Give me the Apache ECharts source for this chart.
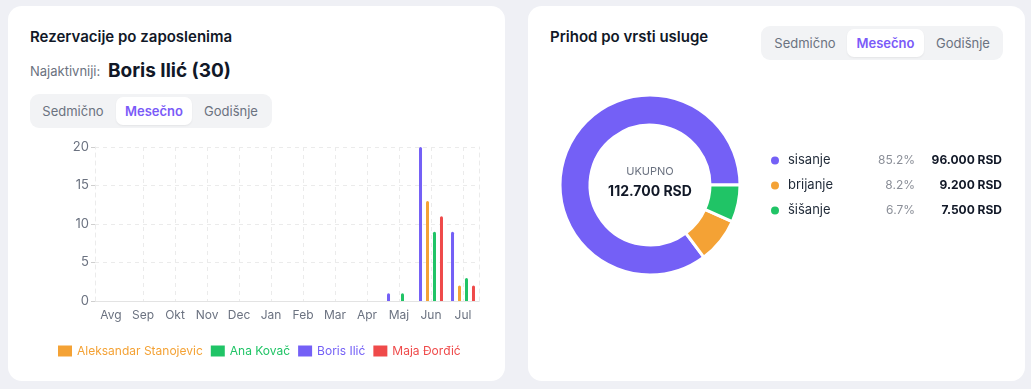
<!DOCTYPE html>
<html>
<head>
<meta charset="utf-8">
<script src="https://cdn.jsdelivr.net/npm/echarts@6/dist/echarts.min.js"></script>
<style>
  html, body { margin: 0; padding: 0; background: #eff0f5; font-family: Inter, "Noto Sans", sans-serif; }
  body { width: 1031px; height: 389px; position: relative; overflow: hidden; }
  .card { position: absolute; top: 6px; width: 497px; height: 375px; background: #fff; border-radius: 14px; }
  .title { position: absolute; font-size: 15px; font-weight: 600; color: #111827; }
  .tabs { position: absolute; width: 242px; height: 34px; background: #f2f3f5; border-radius: 9px; }
  .tab { position: absolute; top: 3px; height: 28px; line-height: 28px; font-size: 13px; color: #6b7280; text-align: center; }
  .tab.on { background: #fff; border-radius: 7px; color: #7a5af8; font-weight: 600; box-shadow: 0 1px 2px rgba(0,0,0,0.06); }
  .sub { position: absolute; left: 22px; top: 52px; font-size: 13px; color: #6b7280; }
  .sub b { font-size: 19px; color: #111827; font-weight: 700; margin-left: 4px; position: relative; top: 1px; }
</style>
</head>
<body>
<div class="card" style="left:8px">
  <div class="title" style="left:22px; top:21px">Rezervacije po zaposlenima</div>
  <div class="sub">Najaktivniji: <b>Boris Ilić (30)</b></div>
  <div class="tabs" style="left:22px; top:88px">
    <div class="tab" style="left:4px; width:78px">Sedmično</div>
    <div class="tab on" style="left:86px; width:76px">Mesečno</div>
    <div class="tab" style="left:162px; width:78px">Godišnje</div>
  </div>
</div>
<div class="card" style="left:528px">
  <div class="title" style="left:22px; top:21px">Prihod po vrsti usluge</div>
  <div class="tabs" style="left:233px; top:20px">
    <div class="tab" style="left:4px; width:80px">Sedmično</div>
    <div class="tab on" style="left:86px; width:77px">Mesečno</div>
    <div class="tab" style="left:163px; width:78px">Godišnje</div>
  </div>
</div>
<div id="bars" style="position:absolute; left:30px; top:135px; width:470px; height:235px"></div>
<div id="pie" style="position:absolute; left:528px; top:60px; width:497px; height:260px"></div>
<script>
var months = ['Avg', 'Sep', 'Okt', 'Nov', 'Dec', 'Jan', 'Feb', 'Mar', 'Apr', 'Maj', 'Jun', 'Jul'];
var boris = [0, 0, 0, 0, 0, 0, 0, 0, 0, 1, 20, 9];
var aleksandar = [0, 0, 0, 0, 0, 0, 0, 0, 0, 0, 13, 2];
var ana = [0, 0, 0, 0, 0, 0, 0, 0, 0, 1, 9, 3];
var maja = [0, 0, 0, 0, 0, 0, 0, 0, 0, 0, 11, 2];
var yTicks = [0, 5, 10, 15, 20];

var services = ['sisanje', 'brijanje', 'šišanje'];
var revenue = [96000, 9200, 7500];

var colors = { purple: '#7460f6', orange: '#f4a235', green: '#20c466', red: '#ef4a4a' };

function money(v) {
  return String(v).replace(/\B(?=(\d{3})+(?!\d))/g, '.') + ' RSD';
}

var barChart = echarts.init(document.getElementById('bars'));
function barSeries(name, data, color) {
  return {
    name: name,
    type: 'bar',
    data: data,
    barWidth: 3,
    barGap: '133%',
    itemStyle: { color: color, borderRadius: [2, 2, 0, 0] }
  };
}
barChart.setOption({
  animation: false,
  textStyle: { fontFamily: 'Inter' },
  grid: { left: 65, right: 21, top: 12, bottom: 69 },
  legend: {
    left: 23,
    top: 205,
    itemWidth: 14,
    itemHeight: 11,
    itemGap: 8,
    icon: 'rect',
    textStyle: { fontSize: 12 },
    data: [
      { name: 'Aleksandar Stanojevic', textStyle: { color: colors.orange } },
      { name: 'Ana Kovač', textStyle: { color: colors.green } },
      { name: 'Boris Ilić', textStyle: { color: colors.purple } },
      { name: 'Maja Đorđić', textStyle: { color: colors.red } }
    ]
  },
  xAxis: {
    type: 'category',
    data: months,
    axisLine: { lineStyle: { color: '#e3e3e3' } },
    axisTick: { alignWithLabel: true, length: 3, lineStyle: { color: '#cfcfcf' } },
    axisLabel: { color: '#6b7280', fontSize: 12, margin: 8, interval: 0 },
    splitLine: {
      show: true,
      alignWithLabel: true,
      interval: function (i) { return i > 0; },
      lineStyle: { color: '#ebebeb', type: [4, 4] }
    }
  },
  yAxis: [{
    type: 'value',
    min: yTicks[0],
    max: yTicks[yTicks.length - 1],
    interval: 5,
    axisLine: { show: true, lineStyle: { color: '#ebebeb', type: [4, 4] } },
    axisTick: { show: true, length: 4, lineStyle: { color: '#cfcfcf' } },
    axisLabel: { color: '#6b7280', fontSize: 13, margin: 6 },
    splitLine: { lineStyle: { color: '#ebebeb', type: [4, 4] } }
  }, {
    type: 'value',
    position: 'right',
    min: yTicks[0],
    max: yTicks[yTicks.length - 1],
    interval: 5,
    axisLine: { show: true, lineStyle: { color: '#ebebeb', type: [4, 4] } },
    axisTick: { show: false },
    axisLabel: { show: false },
    splitLine: { show: false }
  }],
  series: [
    barSeries('Boris Ilić', boris, colors.purple),
    barSeries('Aleksandar Stanojevic', aleksandar, colors.orange),
    barSeries('Ana Kovač', ana, colors.green),
    barSeries('Maja Đorđić', maja, colors.red)
  ]
});

var total = revenue.reduce(function (a, b) { return a + b; }, 0);
var pieChart = echarts.init(document.getElementById('pie'));
pieChart.setOption({
  animation: false,
  textStyle: { fontFamily: 'Inter' },
  color: [colors.purple, colors.orange, colors.green],
  legend: {
    orient: 'vertical',
    left: 236,
    top: 89,
    icon: 'circle',
    itemWidth: 10,
    itemHeight: 10,
    itemGap: 12,
    data: services,
    formatter: function (name) {
      var i = services.indexOf(name);
      var pct = (revenue[i] / total * 100).toFixed(1) + '%';
      return '{n|' + name + '}{p|' + pct + '}{v|' + money(revenue[i]) + '}';
    },
    textStyle: {
      rich: {
        n: { width: 80, fontSize: 13, color: '#1f2937', padding: [0, 0, 0, 3] },
        p: { width: 47, align: 'right', fontSize: 12, color: '#8b8f98' },
        v: { width: 87, align: 'right', fontSize: 12, fontWeight: 'bold', color: '#111827' }
      }
    }
  },
  graphic: [
    { type: 'text', style: { text: 'UKUPNO', x: 122, y: 112, fill: '#6b7280', fontSize: 11, textAlign: 'center', textVerticalAlign: 'middle', fontFamily: 'Inter' } },
    { type: 'text', style: { text: money(total), x: 122, y: 132, fill: '#111827', fontSize: 14, fontWeight: 'bold', textAlign: 'center', textVerticalAlign: 'middle', fontFamily: 'Inter' } }
  ],
  series: [{
    type: 'pie',
    center: [122, 125],
    radius: [60, 90],
    startAngle: 0,
    clockwise: false,
    label: { show: false },
    itemStyle: { borderColor: '#fff', borderWidth: 3 },
    data: services.map(function (s, i) { return { name: s, value: revenue[i] }; })
  }]
});
</script>
</body>
</html>
